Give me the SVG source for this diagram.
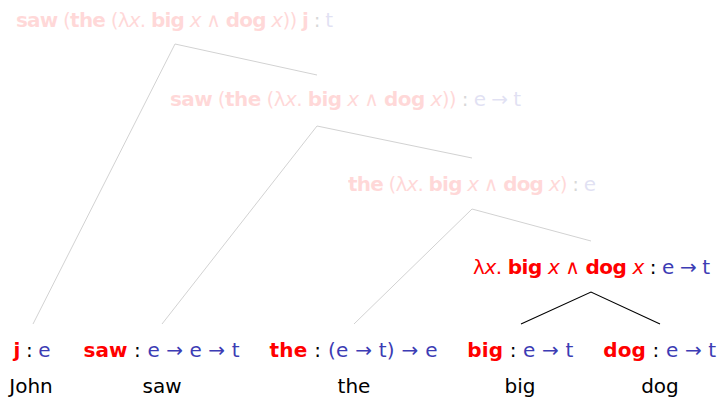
<svg xmlns="http://www.w3.org/2000/svg" width="720" height="397" viewBox="0 0 720 397">
<style>
text{font-family:"DejaVu Sans","Liberation Sans",sans-serif;font-size:20px;fill:#000}
.r{fill:#ff0000}
.b{font-weight:bold}
.i{font-style:italic}
.t{fill:#3c3cb4}
.k{fill:#000}
.fade{opacity:0.15}
.gl{stroke:#d2d2d2;stroke-width:1;fill:none}
.bl{stroke:#000;stroke-width:1.1;fill:none}
</style>
<g id="connectors">
<polyline class="gl" points="33,324 175,44 317,75"/>
<polyline class="gl" points="162,324 317,126 472,158"/>
<polyline class="gl" points="354,324 472,209 591,241"/>
<polyline class="bl" points="521,324 591,292 660,324"/>
</g>
<g id="n-root" class="fade">
<text x="16" y="27" textLength="317"><tspan class="r b">saw</tspan><tspan class="r"> (</tspan><tspan class="r b">the</tspan><tspan class="r"> (λ</tspan><tspan class="r i">x</tspan><tspan class="r">. </tspan><tspan class="r b">big</tspan><tspan class="r i"> x</tspan><tspan class="r"> ∧ </tspan><tspan class="r b">dog</tspan><tspan class="r i"> x</tspan><tspan class="r">)) </tspan><tspan class="r b">j</tspan><tspan class="k"> : </tspan><tspan class="t">t</tspan></text>
</g>
<g id="n-vp" class="fade">
<text x="170" y="106" textLength="351"><tspan class="r b">saw</tspan><tspan class="r"> (</tspan><tspan class="r b">the</tspan><tspan class="r"> (λ</tspan><tspan class="r i">x</tspan><tspan class="r">. </tspan><tspan class="r b">big</tspan><tspan class="r i"> x</tspan><tspan class="r"> ∧ </tspan><tspan class="r b">dog</tspan><tspan class="r i"> x</tspan><tspan class="r">))</tspan><tspan class="k"> : </tspan><tspan class="t">e → t</tspan></text>
</g>
<g id="n-np" class="fade">
<text x="348" y="191" textLength="248"><tspan class="r b">the</tspan><tspan class="r"> (λ</tspan><tspan class="r i">x</tspan><tspan class="r">. </tspan><tspan class="r b">big</tspan><tspan class="r i"> x</tspan><tspan class="r"> ∧ </tspan><tspan class="r b">dog</tspan><tspan class="r i"> x</tspan><tspan class="r">)</tspan><tspan class="k"> : </tspan><tspan class="t">e</tspan></text>
</g>
<g id="n-nbar">
<text x="473" y="274" textLength="237"><tspan class="r">λ</tspan><tspan class="r i">x</tspan><tspan class="r">. </tspan><tspan class="r b">big</tspan><tspan class="r i"> x</tspan><tspan class="r"> ∧ </tspan><tspan class="r b">dog</tspan><tspan class="r i"> x</tspan><tspan class="k"> : </tspan><tspan class="t">e → t</tspan></text>
</g>
<g id="n-john">
<text x="32" y="357" text-anchor="middle" textLength="37"><tspan class="r b">j</tspan><tspan class="k"> : </tspan><tspan class="t">e</tspan></text>
<text x="31" y="393" text-anchor="middle">John</text>
</g>
<g id="n-saw">
<text x="161.5" y="357" text-anchor="middle" textLength="156"><tspan class="r b">saw</tspan><tspan class="k"> : </tspan><tspan class="t">e → e → t</tspan></text>
<text x="162" y="393" text-anchor="middle">saw</text>
</g>
<g id="n-the">
<text x="353.5" y="357" text-anchor="middle" textLength="168"><tspan class="r b">the</tspan><tspan class="k"> : </tspan><tspan class="t">(e → t) → e</tspan></text>
<text x="354" y="393" text-anchor="middle">the</text>
</g>
<g id="n-big">
<text x="520.3" y="357" text-anchor="middle" textLength="106"><tspan class="r b">big</tspan><tspan class="k"> : </tspan><tspan class="t">e → t</tspan></text>
<text x="520" y="393" text-anchor="middle">big</text>
</g>
<g id="n-dog">
<text x="659.7" y="357" text-anchor="middle" textLength="113"><tspan class="r b">dog</tspan><tspan class="k"> : </tspan><tspan class="t">e → t</tspan></text>
<text x="660" y="393" text-anchor="middle">dog</text>
</g>
</svg>
